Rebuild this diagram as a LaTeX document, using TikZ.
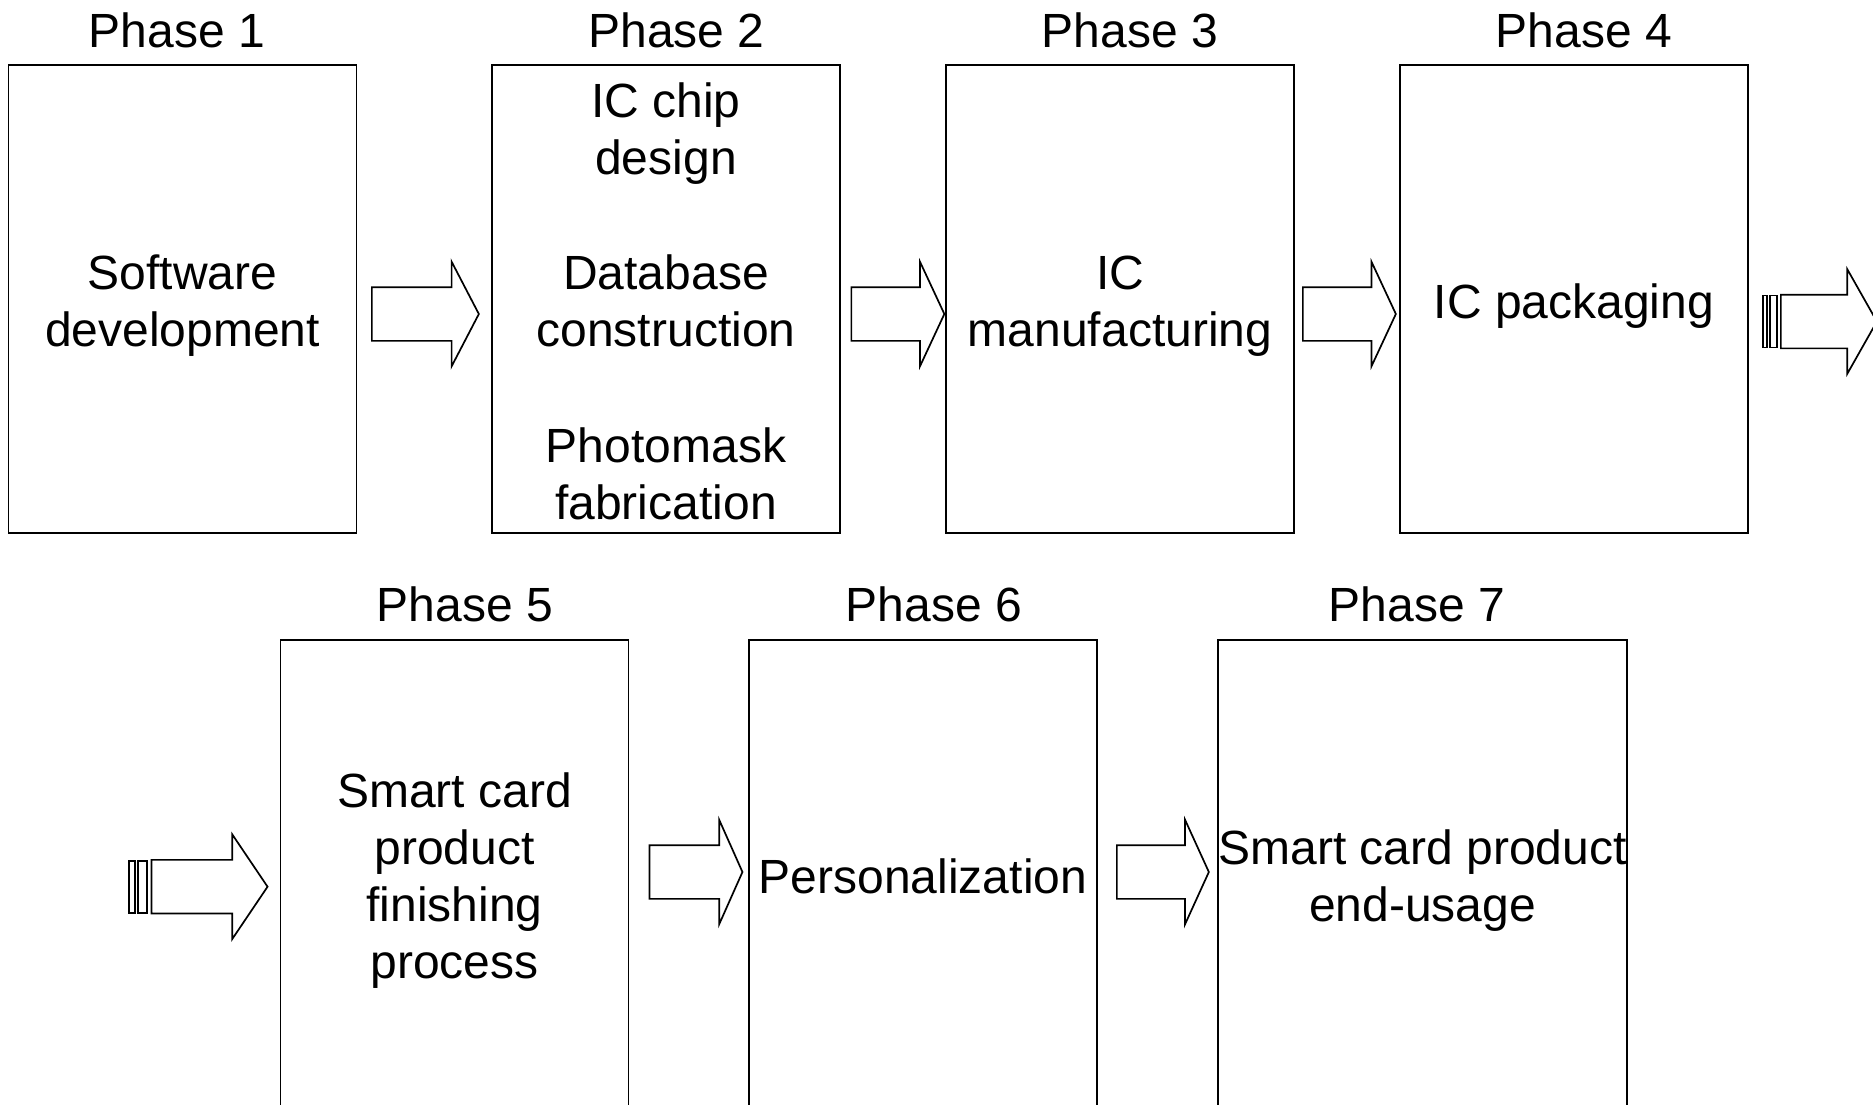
\documentclass[tikz,border=0pt]{standalone}
\usepackage{fontspec}
\setmainfont{Liberation Sans}
\usetikzlibrary{shapes.arrows,calc}

\tikzset{
  bigfont/.style={font=\fontsize{48}{57}\selectfont},
  stage/.style={draw, line width=1.7pt, minimum width=348pt, minimum height=468pt,
    inner sep=0pt},
  phasetag/.style={inner sep=0pt, bigfont},
  itemtext/.style={inner sep=0pt, align=center, bigfont},
  blockarrow/.style={single arrow, draw, line width=1.7pt, fill=white,
    inner xsep=0pt, inner ysep=26pt, minimum width=0pt,
    single arrow head extend=25.5pt, anchor=tail},
  stripe/.style={draw, line width=1.7pt},
}

\begin{document}
\begin{tikzpicture}[x=1pt,y=-1pt]
  \clip (0,0) rectangle (1873,1104);
  \fill[white] (0,0) rectangle (1873,1104);

  % first row of stages
  \node[stage] (b1) at (182.5,299) {};
  \node[stage] (b2) at (666,299) {};
  \node[stage] (b3) at (1120,299) {};
  \node[stage] (b4) at (1574,299) {};

  \node[itemtext] (t1) at ($(b1.center)+(0,7)$) {Software\\development};
  \node[itemtext] (t2a) at (666,134) {IC chip\\design};
  \node[itemtext] (t2b) at (666,301) {Database\\construction};
  \node[itemtext] (t2c) at (666,474) {Photomask\\fabrication};
  \node[itemtext] (t3) at ($(b3.center)+(0,7)$) {IC\\manufacturing};
  \node[itemtext] (t4) at ($(b4.center)+(0,7)$) {IC packaging};

  % second row of stages (running off the lower edge)
  \node[stage] (b5) at (454.5,874) {};
  \node[stage] (b6) at (923,874) {};
  \node[stage, minimum width=409pt] (b7) at (1422.5,874) {};

  \node[itemtext] (t5) at ($(b5.center)+(0,7)$) {Smart card\\product\\finishing\\process};
  \node[itemtext] (t6) at ($(b6.center)+(0,2)$) {Personalization};
  \node[itemtext] (t7) at ($(b7.center)+(0,7)$) {Smart card product\\end-usage};

  % phase captions
  \node[phasetag] (p1) at (177,30) {Phase 1};
  \node[phasetag] (p2) at (676.5,30) {Phase 2};
  \node[phasetag] (p3) at (1130,30) {Phase 3};
  \node[phasetag] (p4) at (1584,30) {Phase 4};
  \node[phasetag] (p5) at (465,604.5) {Phase 5};
  \node[phasetag] (p6) at (934,604.5) {Phase 6};
  \node[phasetag] (p7) at (1417,604.5) {Phase 7};

  % block arrows between stages
  \node[blockarrow, minimum height=107pt, single arrow tip angle=125] (a12) at (371,314) {};
  \node[blockarrow, minimum height=93pt, single arrow tip angle=130] (a23) at (850.5,314) {};
  \node[blockarrow, minimum height=93pt, single arrow tip angle=130] (a34) at (1302,314) {};
  \node[blockarrow, minimum height=96pt, single arrow tip angle=121] (a4x) at (1780,321.5) {};
  \node[blockarrow, minimum height=116pt, single arrow tip angle=112] (ax5) at (150.7,886.7) {};
  \node[blockarrow, minimum height=93pt, single arrow tip angle=132] (a56) at (648.6,872) {};
  \node[blockarrow, minimum height=92pt, single arrow tip angle=131] (a67) at (1116,872) {};

  % stripes behind the continuation arrows
  \draw[stripe] ($(a4x.tail)+(-17.3,-26)$) rectangle ($(a4x.tail)+(-13.3,26)$);
  \draw[stripe] ($(a4x.tail)+(-10,-26)$) rectangle ($(a4x.tail)+(-3.3,26)$);
  \draw[stripe] ($(ax5.tail)+(-21.4,-26)$) rectangle ($(ax5.tail)+(-15.7,26)$);
  \draw[stripe] ($(ax5.tail)+(-12.7,-26)$) rectangle ($(ax5.tail)+(-4,26)$);
\end{tikzpicture}
\end{document}
